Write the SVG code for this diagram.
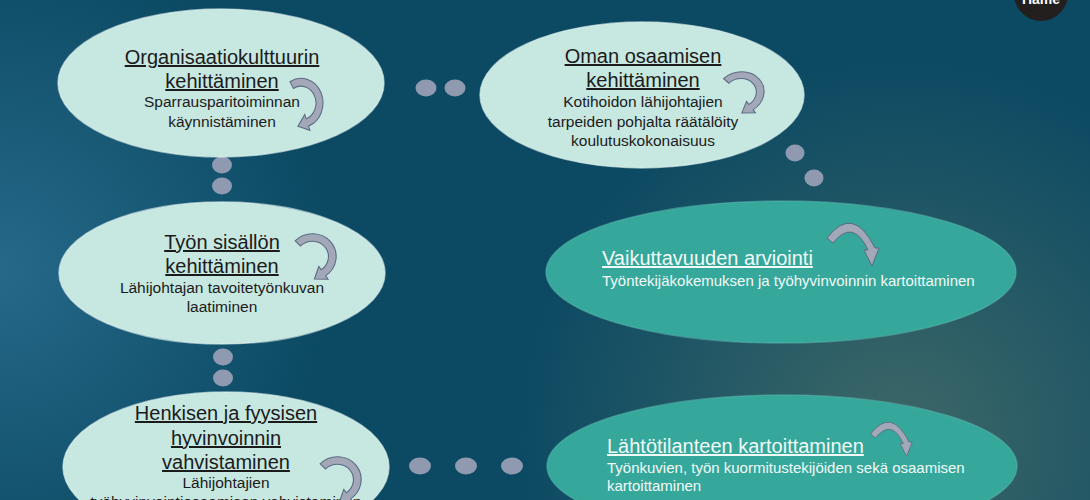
<svg xmlns="http://www.w3.org/2000/svg" xmlns:xlink="http://www.w3.org/1999/xlink" width="1090" height="500" viewBox="0 0 1090 500">
<defs>
<radialGradient id="glowL" cx="0" cy="270" r="330" gradientUnits="userSpaceOnUse">
<stop offset="0" stop-color="#2a6e90" stop-opacity="0.85"/>
<stop offset="1" stop-color="#2a6e90" stop-opacity="0"/>
</radialGradient>
<radialGradient id="glowR" cx="900" cy="440" r="380" gradientUnits="userSpaceOnUse">
<stop offset="0" stop-color="#4a6f68" stop-opacity="0.8"/>
<stop offset="1" stop-color="#4a6f68" stop-opacity="0"/>
</radialGradient>
<path id="arrA" d="M -11,-19.05 A 22 22 0 1 1 7.52,20.67 L 8.89,24.43 L -3.07,20.8 L 3.76,10.34 L 5.13,14.1 A 15 15 0 1 0 -7.5,-12.99 Z"/>
<path id="arrB" d="M -28,-10 Q -2,-44 20,0 L 24,0 L 17,18 L 9,2 L 13,2 Q -2,-30 -22,-5 Z"/>
</defs>
<style>
.light{fill:#c7e7e1;stroke:#e4f5f1;stroke-width:1.5;stroke-opacity:0.6}
.teal{fill:#36a79b;stroke:#5cbcb1;stroke-width:1.5;stroke-opacity:0.5}
.dot{fill:#8f9ab1}
.arr{fill:#a3a8b8;stroke:#5b6a82;stroke-width:1}
.t{font-family:"Liberation Sans",Arial,sans-serif;font-size:20px;fill:#1b1b1b;text-anchor:middle;text-decoration:underline}
.s{font-family:"Liberation Sans",Arial,sans-serif;font-size:15.5px;fill:#1b1b1b;text-anchor:middle}
.tw{font-family:"Liberation Sans",Arial,sans-serif;font-size:20px;fill:#f2faf8;text-decoration:underline}
.sw{font-family:"Liberation Sans",Arial,sans-serif;font-size:15px;fill:#f2faf8}
</style>
<rect x="0" y="0" width="1090" height="500" fill="#0c4a63"/>
<rect x="0" y="0" width="1090" height="500" fill="url(#glowL)"/>
<rect x="0" y="0" width="1090" height="500" fill="url(#glowR)"/>

<g id="badge">
<circle cx="1041" cy="-6" r="27" fill="#231f1f"/>
<text x="1041" y="4" font-family="Liberation Sans,Arial,sans-serif" font-size="14" font-weight="bold" fill="#ffffff" text-anchor="middle">Häme</text>
</g>

<g id="connectors">
<ellipse class="dot" cx="426" cy="88" rx="10.5" ry="8.5"/>
<ellipse class="dot" cx="455" cy="88" rx="10.5" ry="8.5"/>
<ellipse class="dot" cx="795" cy="153" rx="9.5" ry="8.5"/>
<ellipse class="dot" cx="814" cy="178" rx="9.5" ry="8.5"/>
<ellipse class="dot" cx="222" cy="165" rx="10" ry="8.5"/>
<ellipse class="dot" cx="222" cy="186" rx="10" ry="8.5"/>
<ellipse class="dot" cx="223" cy="357" rx="10" ry="8.5"/>
<ellipse class="dot" cx="223" cy="378" rx="10" ry="8.5"/>
<ellipse class="dot" cx="420" cy="466" rx="11" ry="8.5"/>
<ellipse class="dot" cx="466" cy="466" rx="11" ry="8.5"/>
<ellipse class="dot" cx="512" cy="466" rx="11" ry="8.5"/>
</g>

<g id="node-organisaatio">
<ellipse class="light" cx="221" cy="83" rx="163" ry="74"/>
<text class="t" x="222" y="64">Organisaatiokulttuurin</text>
<text class="t" x="222" y="88">kehittäminen</text>
<text class="s" x="222" y="107">Sparrausparitoiminnan</text>
<text class="s" x="222" y="127">käynnistäminen</text>
<use xlink:href="#arrA" class="arr" transform="translate(301,103) scale(1,1.12)"/>
</g>

<g id="node-osaaminen">
<ellipse class="light" cx="642" cy="95" rx="162" ry="73"/>
<text class="t" x="643" y="63">Oman osaamisen</text>
<text class="t" x="643" y="87">kehittäminen</text>
<text class="s" x="643" y="107">Kotihoidon lähijohtajien</text>
<text class="s" x="643" y="127">tarpeiden pohjalta räätälöity</text>
<text class="s" x="643" y="146">koulutuskokonaisuus</text>
<use xlink:href="#arrA" class="arr" transform="translate(740,93) rotate(-15) scale(1.1,0.95)"/>
</g>

<g id="node-tyon-sisalto">
<ellipse class="light" cx="222" cy="273" rx="163" ry="71"/>
<text class="t" x="222" y="249">Työn sisällön</text>
<text class="t" x="222" y="273">kehittäminen</text>
<text class="s" x="222" y="293">Lähijohtajan tavoitetyönkuvan</text>
<text class="s" x="222" y="312">laatiminen</text>
<use xlink:href="#arrA" class="arr" transform="translate(312,257) rotate(-15) scale(1.1,1.05)"/>
</g>

<g id="node-hyvinvointi">
<ellipse class="light" cx="226" cy="467" rx="163" ry="75"/>
<text class="t" x="226" y="420">Henkisen ja fyysisen</text>
<text class="t" x="226" y="445">hyvinvoinnin</text>
<text class="t" x="226" y="469">vahvistaminen</text>
<text class="s" x="226" y="488">Lähijohtajien</text>
<text class="s" x="226" y="507">työhyvinvointiosaamisen vahvistaminen</text>
<use xlink:href="#arrA" class="arr" transform="translate(337,480) rotate(-15) scale(1.1,1.05)"/>
</g>

<g id="node-vaikuttavuus">
<ellipse class="teal" cx="781" cy="272" rx="235" ry="71"/>
<text class="tw" x="602" y="265">Vaikuttavuuden arviointi</text>
<text class="sw" x="602" y="286">Työntekijäkokemuksen ja työhyvinvoinnin kartoittaminen</text>
<use xlink:href="#arrB" class="arr" transform="translate(855,248)"/>
</g>

<g id="node-lahtotilanne">
<ellipse class="teal" cx="782" cy="466" rx="235" ry="71"/>
<text class="tw" x="607" y="453">Lähtötilanteen kartoittaminen</text>
<text class="sw" x="607" y="473">Työnkuvien, työn kuormitustekijöiden sekä osaamisen</text>
<text class="sw" x="607" y="491">kartoittaminen</text>
<use xlink:href="#arrB" class="arr" transform="translate(893,442) scale(0.8)"/>
</g>
</svg>
